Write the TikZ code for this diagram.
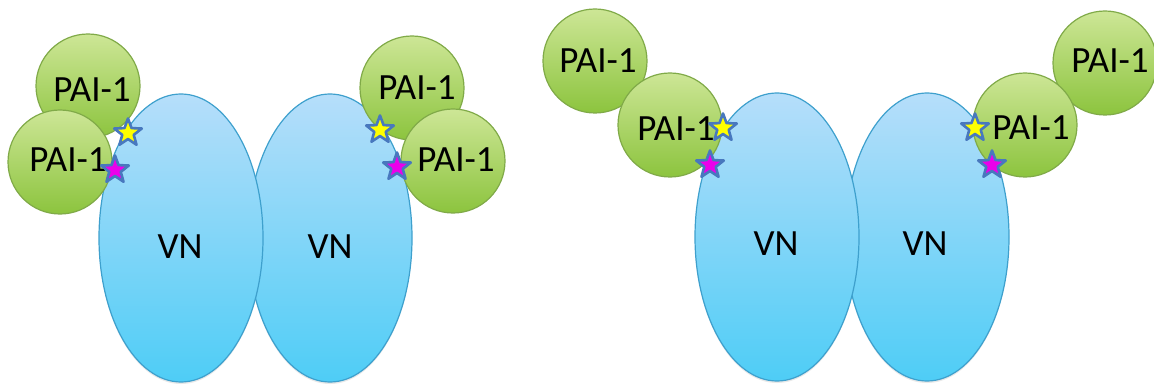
\documentclass[tikz,border=0pt]{standalone}
\usepackage{fontspec}
\setmainfont{Carlito}
\usetikzlibrary{shapes.geometric,shadows}
\definecolor{vntop}{RGB}{182,222,250}
\definecolor{vnbot}{RGB}{78,205,246}
\definecolor{vnline}{RGB}{62,160,205}
\definecolor{paitop}{RGB}{205,230,150}
\definecolor{paibot}{RGB}{140,196,62}
\definecolor{pailine}{RGB}{128,170,72}
\definecolor{starline}{RGB}{72,120,190}
\definecolor{staryel}{RGB}{255,255,0}
\definecolor{starmag}{RGB}{235,0,235}
\tikzset{
  vnshape/.style={ellipse, draw=vnline, line width=1.2pt, top color=vntop, bottom color=vnbot,
     minimum width=164pt, minimum height=288pt, inner sep=0pt,
     drop shadow={opacity=0.18, shadow xshift=0pt, shadow yshift=-2pt}},
  paishape/.style={circle, draw=pailine, line width=1.2pt, top color=paitop, bottom color=paibot,
     minimum size=104pt, inner sep=0pt},
  lbl/.style={font=\fontsize{37}{40}\selectfont, text=black, inner sep=0pt},
  starbase/.style={star, star points=5, star point ratio=2.4, minimum size=29pt, inner sep=0pt,
     draw=starline, line width=2.6pt, line join=round},
  ystar/.style={starbase, fill=staryel},
  mstar/.style={starbase, fill=starmag},
}
\begin{document}
\begin{tikzpicture}[x=1pt,y=-1pt]
\useasboundingbox (0,0) rectangle (1154,385);
% left group ellipses
\node[vnshape] (vlb) at (330,238) {};
\node[vnshape] (vla) at (181,238) {};
\node[lbl] (tvla) at (180,247) {VN};
\node[lbl] (tvlb) at (330,247) {VN};
% right group ellipses
\node[vnshape] (vrb) at (927,237) {};
\node[vnshape] (vra) at (777,237) {};
\node[lbl] (tvra) at (776,244) {VN};
\node[lbl] (tvrb) at (925,244) {VN};
% left group PAI-1 circles
\node[paishape] (l1) at (88,86) {};
\node[paishape] (l2) at (60,162) {};
\node[paishape] (l3) at (412,88) {};
\node[paishape] (l4) at (453,161) {};
\node[lbl] (tl1) at (92,90) {PAI-1};
\node[lbl] (tl2) at (68,160) {PAI-1};
\node[lbl] (tl3) at (417,88) {PAI-1};
\node[lbl] (tl4) at (456,160) {PAI-1};
% right group PAI-1 circles
\node[paishape] (r1) at (595,61) {};
\node[paishape] (r2) at (670,125) {};
\node[paishape] (r3) at (1105,63) {};
\node[paishape] (r4) at (1025,125) {};
\node[lbl] (tr1) at (598,61) {PAI-1};
\node[lbl] (tr2) at (676,129) {PAI-1};
\node[lbl] (tr3) at (1110,61) {PAI-1};
\node[lbl] (tr4) at (1031,128) {PAI-1};
% stars
\node[ystar] (sy1) at (128,133) {};
\node[mstar] (sm1) at (115,170) {};
\node[ystar] (sy2) at (380,130) {};
\node[mstar] (sm2) at (397,167) {};
\node[ystar] (sy3) at (723,128) {};
\node[mstar] (sm3) at (710,165) {};
\node[ystar] (sy4) at (975,128) {};
\node[mstar] (sm4) at (992,165) {};
\end{tikzpicture}
\end{document}
